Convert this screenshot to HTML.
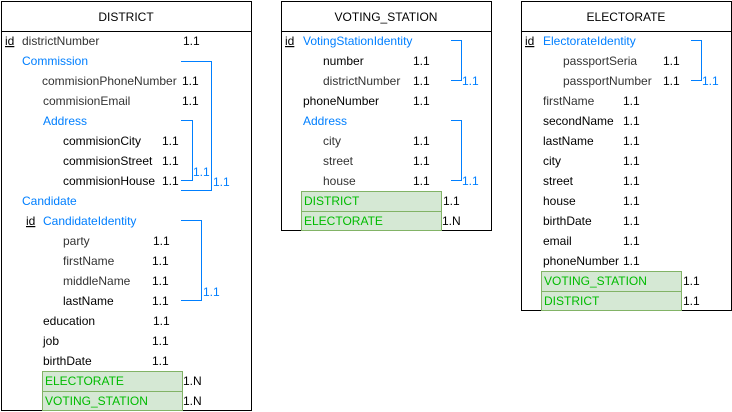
<!DOCTYPE html>
<html><head><meta charset="utf-8"><style>
html,body{margin:0;padding:0;background:#fff;}
svg{display:block;}
text{font-family:"Liberation Sans",Arial,sans-serif;font-size:12px;}
.k{fill:#000}.g{fill:#333}.b{fill:#007FFF}.gr{fill:#00BB00}
.br{fill:none;stroke:#007FFF;stroke-width:1}
.gb{fill:#d5e8d4;stroke:#82b366;stroke-width:1}
.bx{fill:#fff;stroke:#000;stroke-width:1}
</style></head><body>
<svg width="732" height="412" viewBox="0 0 732 412" xmlns="http://www.w3.org/2000/svg">
<!-- DISTRICT -->
<rect class="bx" x="1.5" y="1.5" width="250" height="409"/>
<line x1="1.5" y1="31.5" x2="251.5" y2="31.5" stroke="#000"/>
<text class="k" x="126" y="21" text-anchor="middle">DISTRICT</text>
<text class="k" x="5" y="45" text-decoration="underline">id</text>
<text class="g" x="22" y="45">districtNumber</text><text class="k" x="183" y="45">1.1</text>
<text class="b" x="22" y="65">Commission</text>
<text class="g" x="42" y="85">commisionPhoneNumber</text><text class="k" x="182" y="85">1.1</text>
<text class="g" x="43" y="105">commisionEmail</text><text class="k" x="182" y="105">1.1</text>
<text class="b" x="43" y="125">Address</text>
<text class="k" x="63" y="145">commisionCity</text><text class="k" x="162" y="145">1.1</text>
<text class="k" x="63" y="165">commisionStreet</text><text class="k" x="162" y="165">1.1</text>
<text class="k" x="63" y="185">commisionHouse</text><text class="k" x="162" y="185">1.1</text>
<text class="b" x="22" y="205">Candidate</text>
<text class="k" x="26" y="225" text-decoration="underline">id</text>
<text class="b" x="43" y="225">CandidateIdentity</text>
<text class="g" x="63" y="245">party</text><text class="k" x="153" y="245">1.1</text>
<text class="g" x="63" y="265">firstName</text><text class="k" x="152" y="265">1.1</text>
<text class="g" x="63" y="285">middleName</text><text class="k" x="152" y="285">1.1</text>
<text class="k" x="63" y="305">lastName</text><text class="k" x="152" y="305">1.1</text>
<text class="k" x="43" y="325">education</text><text class="k" x="153" y="325">1.1</text>
<text class="k" x="43" y="345">job</text><text class="k" x="152" y="345">1.1</text>
<text class="k" x="43" y="365">birthDate</text><text class="k" x="152" y="365">1.1</text>
<rect class="gb" x="42.5" y="371.5" width="140" height="20"/>
<rect class="gb" x="42.5" y="391.5" width="140" height="19"/>
<text class="gr" x="45" y="385">ELECTORATE</text><text class="k" x="183" y="385">1.N</text>
<text class="gr" x="45" y="405">VOTING_STATION</text><text class="k" x="183" y="405">1.N</text>
<polyline class="br" points="181,61.5 211.5,61.5 211.5,190.5 181,190.5"/>
<text class="b" x="213" y="186">1.1</text>
<polyline class="br" points="181,120.5 192.5,120.5 192.5,180.5 181,180.5"/>
<text class="b" x="193" y="176">1.1</text>
<polyline class="br" points="181,220.5 201.5,220.5 201.5,300.5 181,300.5"/>
<text class="b" x="203" y="296">1.1</text>

<!-- VOTING_STATION -->
<rect class="bx" x="281.5" y="1.5" width="210" height="229"/>
<line x1="281.5" y1="31.5" x2="491.5" y2="31.5" stroke="#000"/>
<text class="k" x="386" y="21" text-anchor="middle">VOTING_STATION</text>
<text class="k" x="285" y="45" text-decoration="underline">id</text>
<text class="b" x="303" y="45">VotingStationIdentity</text>
<text class="k" x="323" y="65">number</text><text class="k" x="413" y="65">1.1</text>
<text class="g" x="323" y="85">districtNumber</text><text class="k" x="413" y="85">1.1</text>
<text class="k" x="303" y="105">phoneNumber</text><text class="k" x="413" y="105">1.1</text>
<text class="b" x="303" y="125">Address</text>
<text class="g" x="323" y="145">city</text><text class="k" x="413" y="145">1.1</text>
<text class="g" x="323" y="165">street</text><text class="k" x="413" y="165">1.1</text>
<text class="g" x="323" y="185">house</text><text class="k" x="413" y="185">1.1</text>
<rect class="gb" x="301.5" y="191.5" width="140" height="20"/>
<rect class="gb" x="301.5" y="211.5" width="140" height="19"/>
<text class="gr" x="304" y="205">DISTRICT</text><text class="k" x="443" y="205">1.1</text>
<text class="gr" x="304" y="225">ELECTORATE</text><text class="k" x="442" y="225">1.N</text>
<polyline class="br" points="451,40.5 461.5,40.5 461.5,80.5 451,80.5"/>
<text class="b" x="462" y="85">1.1</text>
<polyline class="br" points="451,120.5 461.5,120.5 461.5,180.5 451,180.5"/>
<text class="b" x="462" y="185">1.1</text>

<!-- ELECTORATE -->
<rect class="bx" x="521.5" y="1.5" width="210" height="309"/>
<line x1="521.5" y1="31.5" x2="731.5" y2="31.5" stroke="#000"/>
<text class="k" x="626" y="21" text-anchor="middle">ELECTORATE</text>
<text class="k" x="525" y="45" text-decoration="underline">id</text>
<text class="b" x="543" y="45">ElectorateIdentity</text>
<text class="g" x="563" y="65">passportSeria</text><text class="k" x="663" y="65">1.1</text>
<text class="g" x="563" y="85">passportNumber</text><text class="k" x="663" y="85">1.1</text>
<text class="g" x="543" y="105">firstName</text><text class="k" x="623" y="105">1.1</text>
<text class="k" x="543" y="125">secondName</text><text class="k" x="623" y="125">1.1</text>
<text class="k" x="543" y="145">lastName</text><text class="k" x="623" y="145">1.1</text>
<text class="k" x="543" y="165">city</text><text class="k" x="623" y="165">1.1</text>
<text class="k" x="543" y="185">street</text><text class="k" x="623" y="185">1.1</text>
<text class="k" x="543" y="205">house</text><text class="k" x="623" y="205">1.1</text>
<text class="k" x="543" y="225">birthDate</text><text class="k" x="623" y="225">1.1</text>
<text class="k" x="543" y="245">email</text><text class="k" x="623" y="245">1.1</text>
<text class="k" x="543" y="265">phoneNumber</text><text class="k" x="623" y="265">1.1</text>
<rect class="gb" x="541.5" y="271.5" width="140" height="20"/>
<rect class="gb" x="541.5" y="291.5" width="140" height="19"/>
<text class="gr" x="544" y="285">VOTING_STATION</text><text class="k" x="683" y="285">1.1</text>
<text class="gr" x="544" y="305">DISTRICT</text><text class="k" x="683" y="305">1.1</text>
<polyline class="br" points="691,40.5 701.5,40.5 701.5,80.5 691,80.5"/>
<text class="b" x="702" y="85">1.1</text>
</svg>
</body></html>
